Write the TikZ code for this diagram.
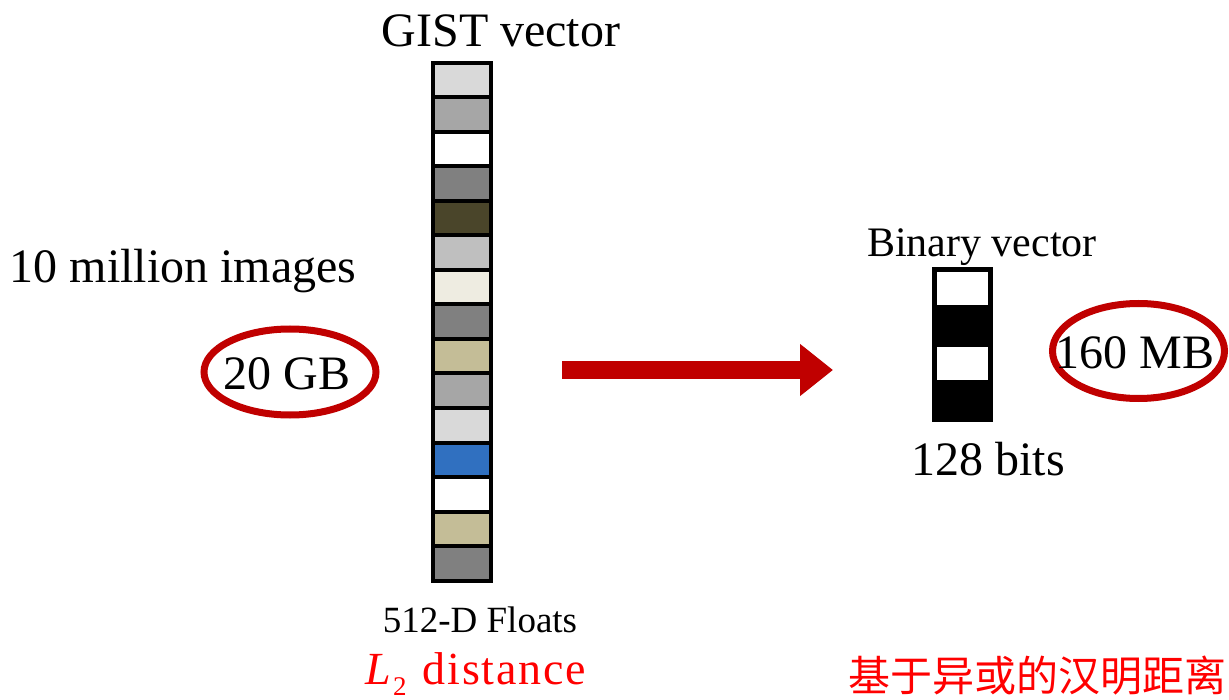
\documentclass[tikz,border=0pt]{standalone}
\usepackage{fontspec}
\setmainfont{Liberation Serif}
\newfontfamily\cjk{Noto Sans CJK SC}
\newfontfamily\spaced[LetterSpace=4]{Liberation Serif}
\usetikzlibrary{arrows.meta,shapes.geometric}
\definecolor{ringred}{RGB}{192,0,0}
\definecolor{labelred}{RGB}{255,0,0}
\definecolor{gistlight}{HTML}{D9D9D9}
\definecolor{gistmid}{HTML}{A6A6A6}
\definecolor{gistdark}{HTML}{808080}
\definecolor{gistolive}{HTML}{4A452A}
\definecolor{gistsilver}{HTML}{BFBFBF}
\definecolor{gistcream}{HTML}{EEECE1}
\definecolor{gistkhaki}{HTML}{C4BD97}
\definecolor{gistblue}{HTML}{3070C0}

\begin{document}
\begin{tikzpicture}[x=1pt,y=-1pt,
  big/.style={font=\fontsize{48}{56}\selectfont,inner sep=0pt},
  mid/.style={font=\fontsize{42}{50}\selectfont,inner sep=0pt},
  small/.style={font=\fontsize{37}{42}\selectfont,inner sep=0pt},
  gistcell/.style={rectangle,draw=black,line width=4pt,minimum width=58pt,
    minimum height=34.5pt,inner sep=0pt},
  bitcell/.style={rectangle,draw=black,line width=5pt,minimum width=56pt,
    minimum height=37.5pt,inner sep=0pt},
  ring/.style={ellipse,draw=ringred,line width=7pt,inner sep=0pt},
  bigarrow/.style={-{Triangle[length=33pt,width=50pt]},draw=ringred,
    fill=ringred,line width=18pt}]
\useasboundingbox (0,0) rectangle (1229,700);

% GIST descriptor: 15 float cells.
\node[big,anchor=base] (gisttitle) at (501,47) {GIST vector};
\foreach \col [count=\i] in {gistlight,gistmid,white,gistdark,gistolive,
    gistsilver,gistcream,gistdark,gistkhaki,gistmid,gistlight,gistblue,
    white,gistkhaki,gistdark}
  \node[gistcell,fill=\col] (gist\i) at (462,{63+34.5*(\i-0.5)}) {};
\node[small,anchor=base] (floats) at (480,632) {512-D Floats};
\node[anchor=base,inner sep=0pt,text=labelred,font=\fontsize{46}{52}\selectfont]
  (ltwo) at (476,684)
  {{\itshape L}\hspace{2pt}\raisebox{-11pt}{\fontsize{27}{30}\selectfont 2}\hspace{16pt}{\spaced distance}};

% Storage of the raw descriptors.
\node[big,anchor=base] (count) at (183,283) {10 million images};
\node[ring,minimum width=172pt,minimum height=86pt] (gb) at (290,372) {};
\node[big] (gbtext) at (287,374) {20 GB};

% Compression step.
\coordinate (arrowtail) at (562,370);
\coordinate (arrowtip) at (833,370);
\draw[bigarrow] (arrowtail) -- (arrowtip);

% Binary code: white and black bits.
\node[mid,anchor=base] (bintitle) at (982,257) {Binary vector};
\foreach \col [count=\i] in {white,black,white,black}
  \node[bitcell,fill=\col] (bit\i) at (962.5,{270+37.5*(\i-0.5)}) {};
\node[big,anchor=base] (bits) at (988,475) {128 bits};
\node[ring,minimum width=172pt,minimum height=95pt] (mb) at (1138.5,351) {};
\node[big] (mbtext) at (1135,353) {160 MB};
\node[mid,text=labelred] (hamming) at (1037,676) {\cjk 基于异或的汉明距离};
\end{tikzpicture}
\end{document}
